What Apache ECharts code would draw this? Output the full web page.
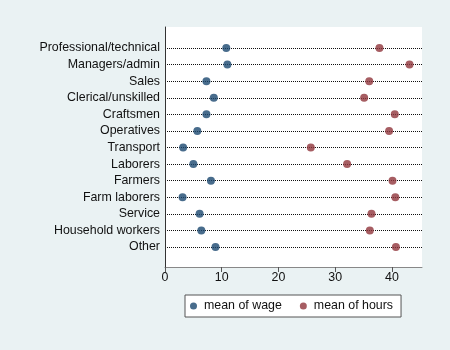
<!DOCTYPE html>
<html>
<head>
<meta charset="utf-8">
<script src="https://cdn.jsdelivr.net/npm/echarts@6/dist/echarts.min.js"></script>
<style>
  html, body { margin: 0; padding: 0; background: #eaf2f3; }
  #chart { width: 450px; height: 350px; }
</style>
</head>
<body>
<div id="chart"></div>
<script>
  // occupation groups, top to bottom
  var occupations = ['Professional/technical', 'Managers/admin', 'Sales', 'Clerical/unskilled',
    'Craftsmen', 'Operatives', 'Transport', 'Laborers', 'Farmers', 'Farm laborers',
    'Service', 'Household workers', 'Other'];
  var meanWage = [10.8, 11.0, 7.3, 8.6, 7.3, 5.7, 3.2, 5.0, 8.1, 3.1, 6.1, 6.4, 8.9];
  var meanHours = [37.8, 43.1, 36.0, 35.1, 40.5, 39.5, 25.7, 32.1, 40.1, 40.6, 36.4, 36.1, 40.7];
  var xTicks = [0, 10, 20, 30, 40];

  var FONT = 'Liberation Sans, Arial, sans-serif';
  var FS = 12.4;
  var myChart = echarts.init(document.getElementById('chart'));

  // scatter on a category y axis: pair each value with its row
  function rows(vals) {
    return vals.map(function (v, i) { return [v, occupations[i]]; });
  }

  var option = {
    backgroundColor: '#eaf2f3',
    animation: false,
    textStyle: { fontFamily: FONT },
    grid: [
      // outer plot region (white box + axes)
      { left: 165, right: 28, top: 27, height: 240, show: true, backgroundColor: '#fff', borderWidth: 0 },
      // rows sit inside this one
      { left: 165, right: 28, top: 48, height: 199 }
    ],
    xAxis: [
      {
        gridIndex: 0, type: 'value', min: 0, max: 45.3, interval: 10,
        axisLine: { show: true, lineStyle: { color: '#888', width: 1 } },
        axisTick: { show: true, length: 5, lineStyle: { color: '#555' }, customValues: xTicks },
        axisLabel: { color: '#111', fontSize: FS, fontFamily: FONT, margin: 5, customValues: xTicks },
        splitLine: { show: false }
      },
      { gridIndex: 1, type: 'value', min: 0, max: 45.3, show: false }
    ],
    yAxis: [
      {
        gridIndex: 0, type: 'value', min: 0, max: 1, show: true,
        axisLine: { show: true, lineStyle: { color: '#333', width: 1 } },
        axisTick: { show: false }, axisLabel: { show: false }, splitLine: { show: false }
      },
      {
        gridIndex: 1, type: 'category', data: occupations, inverse: true, boundaryGap: false,
        axisLine: { show: false }, axisTick: { show: false },
        axisLabel: { color: '#111', fontSize: FS, fontFamily: FONT, margin: 5 },
        splitLine: { show: true, lineStyle: { color: '#111', width: 1, type: [1, 1] } }
      }
    ],
    legend: {
      left: 185, top: 295,
      data: ['mean of wage', 'mean of hours'],
      icon: 'circle', itemWidth: 7, itemHeight: 7, itemGap: 18,
      backgroundColor: '#fff', borderColor: '#555', borderWidth: 1,
      padding: [5, 8, 5, 5],
      textStyle: { color: '#111', fontSize: FS, fontFamily: FONT, padding: [0, 0, 0, 2] }
    },
    series: [
      {
        name: 'mean of wage', type: 'scatter', xAxisIndex: 1, yAxisIndex: 1,
        data: rows(meanWage), symbolSize: 8, itemStyle: { color: '#1a476f' }, z: 5
      },
      {
        name: 'mean of hours', type: 'scatter', xAxisIndex: 1, yAxisIndex: 1,
        data: rows(meanHours), symbolSize: 8, itemStyle: { color: '#90353b' }, z: 5
      }
    ]
  };

  myChart.setOption(option);
</script>
</body>
</html>
